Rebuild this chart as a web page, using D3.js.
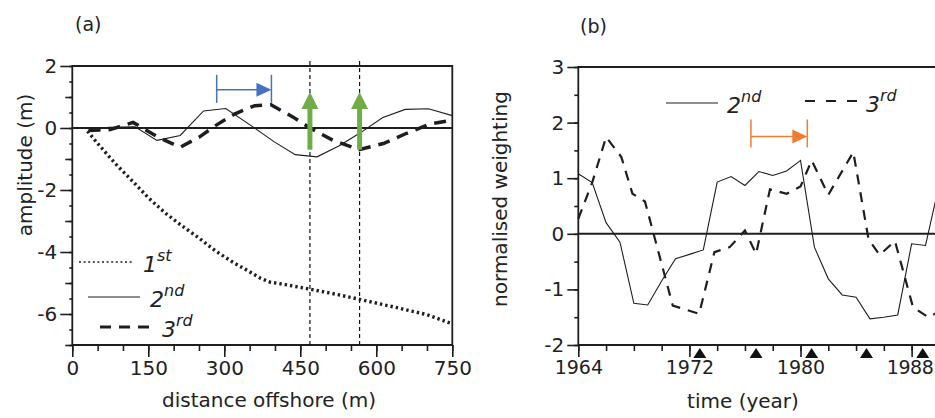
<!DOCTYPE html>
<html><head><meta charset="utf-8">
<script src="https://cdn.jsdelivr.net/npm/d3@7"></script>
<style>
html,body{margin:0;padding:0;background:#fff;}
svg{display:block;background:#fff;}
text{font-family:"DejaVu Sans",sans-serif;fill:#222;}
</style></head><body>
<svg id="chart" width="935" height="418"></svg>
<script>
// ---------- Panel (a) data ----------
const mode1Distance = [30, 50, 85, 118, 150, 184, 216, 250, 283, 317, 348, 372, 390, 420, 469, 520, 568, 647, 700, 750];
const mode1Amplitude = [-0.1, -0.5, -1.15, -1.7, -2.25, -2.75, -3.15, -3.55, -3.97, -4.33, -4.62, -4.85, -4.97, -5.05, -5.2, -5.36, -5.53, -5.82, -6.02, -6.32];
const mode2Distance = [32, 72, 124, 167, 213, 259, 303, 358, 398, 440, 483, 526, 570, 612, 657, 703, 750];
const mode2Amplitude = [-0.08, 0.02, 0.04, -0.4, -0.24, 0.55, 0.63, 0.02, -0.44, -0.86, -0.93, -0.58, -0.14, 0.33, 0.6, 0.62, 0.4];
const mode3Distance = [32, 75, 120, 170, 213, 250, 280, 320, 360, 392, 436, 469, 515, 566, 614, 660, 706, 750];
const mode3Amplitude = [-0.08, -0.05, 0.18, -0.3, -0.62, -0.3, 0.05, 0.45, 0.72, 0.75, 0.35, 0.0, -0.4, -0.7, -0.5, -0.17, 0.13, 0.25];
const xTicksA = [0, 150, 300, 450, 600, 750];
const yTicksA = [-6, -4, -2, 0, 2];
const markerDistances = [469, 567];
const greenArrowFrom = -0.7, greenArrowTo = 1.16;
const blueArrow = [285, 393];          // distance start, end
const blueArrowLevel = 1.23;
const legendA = [["1", "st"], ["2", "nd"], ["3", "rd"]];

// ---------- Panel (b) data ----------
const mode2Years = [1964, 1965, 1966, 1967, 1968, 1969, 1970, 1971, 1972, 1973, 1974, 1975, 1976, 1977, 1978, 1979, 1980, 1981, 1982, 1983, 1984, 1985, 1986, 1987, 1988, 1989, 1990];
const mode2Weight = [1.08, 0.92, 0.2, -0.15, -1.25, -1.28, -0.85, -0.45, -0.37, -0.29, 0.93, 1.03, 0.87, 1.12, 1.05, 1.13, 1.32, -0.24, -0.81, -1.1, -1.14, -1.53, -1.5, -1.46, -0.18, -0.21, 0.9];
const mode3Years = [1964, 1965, 1966, 1967.1, 1967.9, 1968.8, 1970.8, 1972.7, 1973.8, 1974.9, 1976, 1976.8, 1977.8, 1979, 1980, 1980.8, 1982, 1983.8, 1984.9, 1985.7, 1986.8, 1988.1, 1989.2, 1990];
const mode3Weight = [0.27, 0.92, 1.74, 1.38, 0.72, 0.58, -1.29, -1.44, -0.33, -0.24, 0.06, -0.36, 0.8, 0.72, 0.85, 1.32, 0.7, 1.47, -0.1, -0.38, -0.13, -1.32, -1.5, -1.4];
const yearTicks = [1964, 1972, 1980, 1988];
const yTicksB = [-2, -1, 0, 1, 2, 3];
const triangleYears = [1972.75, 1976.8, 1980.8, 1984.75, 1988.8];
const orangeArrow = [1976.43, 1980.49];
const orangeArrowLevel = 1.75;
const legendB = [["2", "nd"], ["3", "rd"]];

const svg = d3.select("#chart");
const ink = "#1e1e1e";

function styleAxis(g, fs) {
  g.select(".domain").remove();
  g.selectAll(".tick line").attr("stroke", ink).attr("stroke-width", 1.6);
  g.selectAll(".tick text").style("font-size", fs + "px").attr("fill", "#222");
}

// ================= Panel (a) =================
const xA = d3.scaleLinear().domain([0, 750]).range([72.3, 452.3]);
const yA = d3.scaleLinear().domain([-7, 2]).range([345, 66]);
const gA = svg.append("g");

gA.append("g").attr("transform", `translate(0,${yA(-7)})`)
  .call(d3.axisBottom(xA).tickValues(d3.range(0, 751, 50)).tickSize(6).tickFormat(""))
  .call(g => styleAxis(g, 20));
gA.append("g").attr("transform", `translate(0,${yA(-7)})`)
  .call(d3.axisBottom(xA).tickValues(xTicksA).tickSize(12).tickPadding(4).tickFormat(d => String(d)))
  .call(g => styleAxis(g, 20));
gA.append("g").attr("transform", `translate(${xA(0)},0)`)
  .call(d3.axisLeft(yA).tickValues(d3.range(-7, 2.01, 0.5)).tickSize(3).tickFormat(""))
  .call(g => styleAxis(g, 20));
gA.append("g").attr("transform", `translate(${xA(0)},0)`)
  .call(d3.axisLeft(yA).tickValues([-7, -5, -3, -1, 1]).tickSize(7).tickFormat(""))
  .call(g => styleAxis(g, 20));
gA.append("g").attr("transform", `translate(${xA(0)},0)`)
  .call(d3.axisLeft(yA).tickValues(yTicksA).tickSize(12).tickPadding(3).tickFormat(d => String(d)))
  .call(g => styleAxis(g, 20));

gA.append("path").attr("fill", "none").attr("stroke", ink).attr("stroke-width", 1.8)
  .attr("d", `M${xA(0)},${yA(2)}H${xA(750)}V${yA(-7)}H${xA(0)}Z`);
gA.append("line").attr("x1", xA(0)).attr("x2", xA(750)).attr("y1", yA(0)).attr("y2", yA(0))
  .attr("stroke", ink).attr("stroke-width", 2);

gA.selectAll(".vmark").data(markerDistances).join("line")
  .attr("x1", d => xA(d)).attr("x2", d => xA(d))
  .attr("y1", yA(2) - 5).attr("y2", yA(-7))
  .attr("stroke", "#111").attr("stroke-width", 1.2).attr("stroke-dasharray", "4,3");

const lineA = d3.line().x(d => xA(d[0])).y(d => yA(d[1]));
const m1 = mode1Distance.map((d, i) => [d, mode1Amplitude[i]]);
const m2 = mode2Distance.map((d, i) => [d, mode2Amplitude[i]]);
const m3 = mode3Distance.map((d, i) => [d, mode3Amplitude[i]]);
gA.append("path").datum(m1).attr("d", lineA).attr("fill", "none").attr("stroke", ink)
  .attr("stroke-width", 3.4).attr("stroke-dasharray", "2.4,3");
gA.append("path").datum(m2).attr("d", lineA).attr("fill", "none").attr("stroke", ink)
  .attr("stroke-width", 1.1);
gA.append("path").datum(m3).attr("d", lineA).attr("fill", "none").attr("stroke", ink)
  .attr("stroke-width", 3.5).attr("stroke-dasharray", "12,8");

const green = "#70AD47";
markerDistances.forEach(d => {
  const x = xA(d), yTip = yA(greenArrowTo), yBase = yA(greenArrowFrom);
  gA.append("line").attr("x1", x).attr("x2", x).attr("y1", yBase).attr("y2", yTip + 14)
    .attr("stroke", green).attr("stroke-width", 5);
  gA.append("path").attr("fill", green)
    .attr("d", `M${x},${yTip}L${x + 8.5},${yTip + 17}L${x - 8.5},${yTip + 17}Z`);
});
const blue = "#4472C4";
{
  const x1 = xA(blueArrow[0]), x2 = xA(blueArrow[1]), y = yA(blueArrowLevel);
  gA.append("line").attr("x1", x1).attr("x2", x2 - 12).attr("y1", y).attr("y2", y).attr("stroke", blue).attr("stroke-width", 1.5);
  [x1, x2].forEach(x => gA.append("line").attr("x1", x).attr("x2", x).attr("y1", y - 15).attr("y2", y + 13)
    .attr("stroke", blue).attr("stroke-width", 1.5));
  gA.append("path").attr("fill", blue).attr("d", `M${x2},${y}L${x2 - 15},${y - 7}L${x2 - 15},${y + 7}Z`);
}

const legA = [
  {y: 262, x1: 79, x2: 132, tx: 143, ty: 272, w: 1.6, dash: "2,2.6"},
  {y: 297, x1: 88, x2: 140, tx: 150, ty: 307, w: 1.1, dash: null},
  {y: 327, x1: 100, x2: 154, tx: 162, ty: 337, w: 2.8, dash: "11,8"}
];
legA.forEach((l, i) => {
  const ln = gA.append("line").attr("x1", l.x1).attr("x2", l.x2).attr("y1", l.y).attr("y2", l.y)
    .attr("stroke", ink).attr("stroke-width", l.w);
  if (l.dash) ln.attr("stroke-dasharray", l.dash);
  const t = gA.append("text").attr("x", l.tx).attr("y", l.ty).style("font-style", "italic").style("font-size", "22px");
  t.append("tspan").text(legendA[i][0]);
  t.append("tspan").attr("dy", -11).style("font-size", "16px").text(legendA[i][1]);
});

gA.append("text").attr("x", 269).attr("y", 407).attr("text-anchor", "middle").style("font-size", "20px").text("distance offshore (m)");
gA.append("text").attr("transform", "translate(32,165) rotate(-90)").attr("text-anchor", "middle").style("font-size", "20px").text("amplitude (m)");
gA.append("text").attr("x", 75).attr("y", 31).style("font-size", "19px").text("(a)");

// ================= Panel (b) =================
const xB = d3.scaleLinear().domain([1964, 1990]).range([578.3, 939.4]);
const yB = d3.scaleLinear().domain([-2, 3]).range([345, 67]);
const gB = svg.append("g");

gB.append("g").attr("transform", `translate(0,${yB(-2)})`)
  .call(d3.axisBottom(xB).tickValues(d3.range(1964, 1991, 2)).tickSize(6).tickFormat(""))
  .call(g => styleAxis(g, 19));
gB.append("g").attr("transform", `translate(0,${yB(-2)})`)
  .call(d3.axisBottom(xB).tickValues(yearTicks).tickSize(12).tickPadding(4).tickFormat(d => String(d)))
  .call(g => styleAxis(g, 19))
  .call(g => g.selectAll(".tick text").filter(d => d === 1988).attr("dx", -2).style("letter-spacing", "-0.4px"));
gB.append("g").attr("transform", `translate(${xB(1964)},0)`)
  .call(d3.axisLeft(yB).tickValues(d3.range(-2, 3.01, 0.5)).tickSize(4).tickFormat(""))
  .call(g => styleAxis(g, 20));
gB.append("g").attr("transform", `translate(${xB(1964)},0)`)
  .call(d3.axisLeft(yB).tickValues(yTicksB).tickSize(11).tickPadding(3).tickFormat(d => String(d)))
  .call(g => styleAxis(g, 20));

gB.append("path").attr("fill", "none").attr("stroke", ink).attr("stroke-width", 1.8)
  .attr("d", `M940,${yB(3)}H${xB(1964)}V${yB(-2)}H940`);
gB.append("line").attr("x1", xB(1964)).attr("x2", 940).attr("y1", yB(0)).attr("y2", yB(0))
  .attr("stroke", ink).attr("stroke-width", 2);

const lineB = d3.line().x(d => xB(d[0])).y(d => yB(d[1]));
const b2 = mode2Years.map((d, i) => [d, mode2Weight[i]]);
const b3 = mode3Years.map((d, i) => [d, mode3Weight[i]]);
gB.append("path").datum(b2).attr("d", lineB).attr("fill", "none").attr("stroke", ink).attr("stroke-width", 1.1);
gB.append("path").datum(b3).attr("d", lineB).attr("fill", "none").attr("stroke", ink)
  .attr("stroke-width", 2.2).attr("stroke-dasharray", "10,8");

gB.selectAll(".tri").data(triangleYears).join("path")
  .attr("fill", "#111")
  .attr("d", d => { const x = xB(d), y = yB(-2); return `M${x},${y + 3}L${x + 6.5},${y + 13}L${x - 6.5},${y + 13}Z`; });

const orange = "#ED7D31";
{
  const x1 = xB(orangeArrow[0]), x2 = xB(orangeArrow[1]), y = yB(orangeArrowLevel);
  gB.append("line").attr("x1", x1).attr("x2", x2 - 12).attr("y1", y).attr("y2", y).attr("stroke", orange).attr("stroke-width", 1.5);
  [x1, x2].forEach(x => gB.append("line").attr("x1", x).attr("x2", x).attr("y1", y - 17).attr("y2", y + 11)
    .attr("stroke", orange).attr("stroke-width", 1.5));
  gB.append("path").attr("fill", orange).attr("d", `M${x2},${y}L${x2 - 15},${y - 7}L${x2 - 15},${y + 7}Z`);
}

const legB = [
  {y: 103, x1: 666, x2: 718, tx: 727, ty: 113, w: 1.1, dash: null},
  {y: 101, x1: 805, x2: 858, tx: 866, ty: 112, w: 2, dash: "10,11"}
];
legB.forEach((l, i) => {
  const ln = gB.append("line").attr("x1", l.x1).attr("x2", l.x2).attr("y1", l.y).attr("y2", l.y)
    .attr("stroke", ink).attr("stroke-width", l.w);
  if (l.dash) ln.attr("stroke-dasharray", l.dash);
  const t = gB.append("text").attr("x", l.tx).attr("y", l.ty).style("font-style", "italic").style("font-size", "22px");
  t.append("tspan").text(legendB[i][0]);
  t.append("tspan").attr("dy", -11).style("font-size", "16px").text(legendB[i][1]);
});

gB.append("text").attr("x", 743).attr("y", 408).attr("text-anchor", "middle").style("font-size", "20px").text("time (year)");
gB.append("text").attr("transform", "translate(507,199) rotate(-90)").attr("text-anchor", "middle").style("font-size", "20px").text("normalised weighting");
gB.append("text").attr("x", 580).attr("y", 33).style("font-size", "19px").text("(b)");
</script>
</body></html>
